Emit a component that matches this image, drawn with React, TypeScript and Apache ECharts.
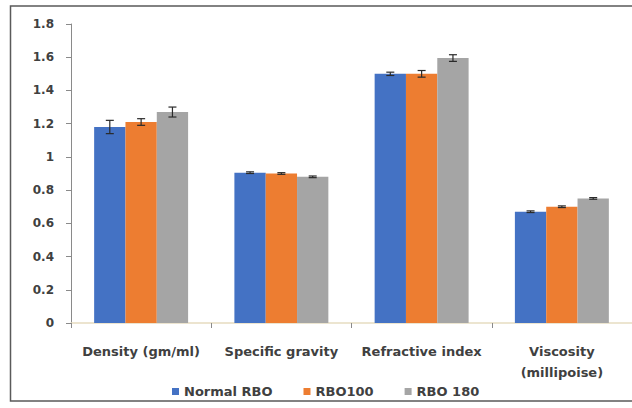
import React, { useEffect, useRef } from "react";
import * as echarts from "echarts";

const categories = ["Density (gm/ml)", "Specific gravity", "Refractive index", "Viscosity\n(millipoise)"];
const seriesNames = ["Normal RBO", "RBO100", "RBO 180"];
const normalRBO = [1.18, 0.905, 1.5, 0.67];
const rbo100 = [1.21, 0.9, 1.5, 0.7];
const rbo180 = [1.27, 0.88, 1.595, 0.75];
const errNormal = [0.04, 0.005, 0.01, 0.005];
const err100 = [0.02, 0.005, 0.02, 0.005];
const err180 = [0.03, 0.005, 0.02, 0.005];
const colors = ["#4472C4", "#ED7D31", "#A5A5A5"];

const FONT = "'DejaVu Sans', sans-serif";

export default function App() {
  const ref = useRef<HTMLDivElement>(null);
  useEffect(() => {
    document.body.style.margin = "0";
    const chart = echarts.init(ref.current!, null, { renderer: "svg" });
    const values = [normalRBO, rbo100, rbo180];
    const errs = [errNormal, err100, err180];
    const barFrac = 0.67 / 3;

    const errorSeries = values.map((vals, si) => ({
      type: "custom",
      name: "err" + si,
      z: 10,
      data: vals.map((v, i) => [i, v, errs[si][i]]),
      encode: { x: 0, y: 1 },
      renderItem: (params: any, api: any) => {
        const idx = api.value(0);
        const v = api.value(1);
        const e = api.value(2);
        const band = api.size([1, 0])[0];
        const bw = band * barFrac;
        const cx = api.coord([idx, 0])[0] + (si - 1) * bw;
        const top = api.coord([idx, v + e])[1];
        const bot = api.coord([idx, v - e])[1];
        const cap = 4;
        const style = { stroke: "#2a2a2a", lineWidth: 1.2 };
        return {
          type: "group",
          children: [
            { type: "line", shape: { x1: cx, y1: top, x2: cx, y2: bot }, style },
            { type: "line", shape: { x1: cx - cap, y1: top, x2: cx + cap, y2: top }, style },
            { type: "line", shape: { x1: cx - cap, y1: bot, x2: cx + cap, y2: bot }, style },
          ],
        };
      },
    }));

    chart.setOption({
      animation: false,
      backgroundColor: "#ffffff",
      color: colors,
      textStyle: { fontFamily: FONT },
      grid: { left: 71, right: 0, top: 24, bottom: 85, containLabel: false },
      legend: {
        data: seriesNames,
        left: 172,
        top: 385,
        padding: 0,
        itemWidth: 7,
        itemHeight: 7,
        itemGap: 31,
        icon: "rect",
        textStyle: { fontFamily: FONT, fontSize: 13, fontWeight: "bold", color: "#404040" },
      },
      xAxis: {
        type: "category",
        data: categories,
        axisLine: { lineStyle: { color: "#E6DCC0", width: 1.5 } },
        axisTick: { show: true, length: 5, lineStyle: { color: "#8a8a8a" } },
        axisLabel: {
          fontFamily: FONT,
          fontSize: 13,
          fontWeight: "bold",
          color: "#404040",
          margin: 18,
          lineHeight: 21,
          interval: 0,
        },
      },
      yAxis: {
        type: "value",
        min: 0,
        max: 1.8,
        interval: 0.2,
        splitLine: { show: false },
        axisLine: { show: true, lineStyle: { color: "#8a8a8a" } },
        axisTick: { show: true, length: 5, lineStyle: { color: "#8a8a8a" } },
        axisLabel: {
          fontFamily: FONT,
          fontSize: 12,
          fontWeight: "bold",
          color: "#404040",
          margin: 17,
          formatter: (v: number) => String(Math.round(v * 10) / 10),
        },
      },
      series: [
        ...values.map((vals, si) => ({
          type: "bar",
          name: seriesNames[si],
          data: vals,
          barGap: "0%",
          barCategoryGap: "33%",
          itemStyle: { color: colors[si] },
        })),
        ...errorSeries,
      ],
      graphic: [
        {
          type: "rect",
          shape: { x: 10.5, y: 6, width: 640, height: 395 },
          style: { fill: "none", stroke: "#5a5a5a", lineWidth: 1.5 },
          silent: true,
          z: 100,
        },
      ],
    });
    return () => chart.dispose();
  }, []);
  return <div ref={ref} style={{ width: 632, height: 408 }} />;
}
